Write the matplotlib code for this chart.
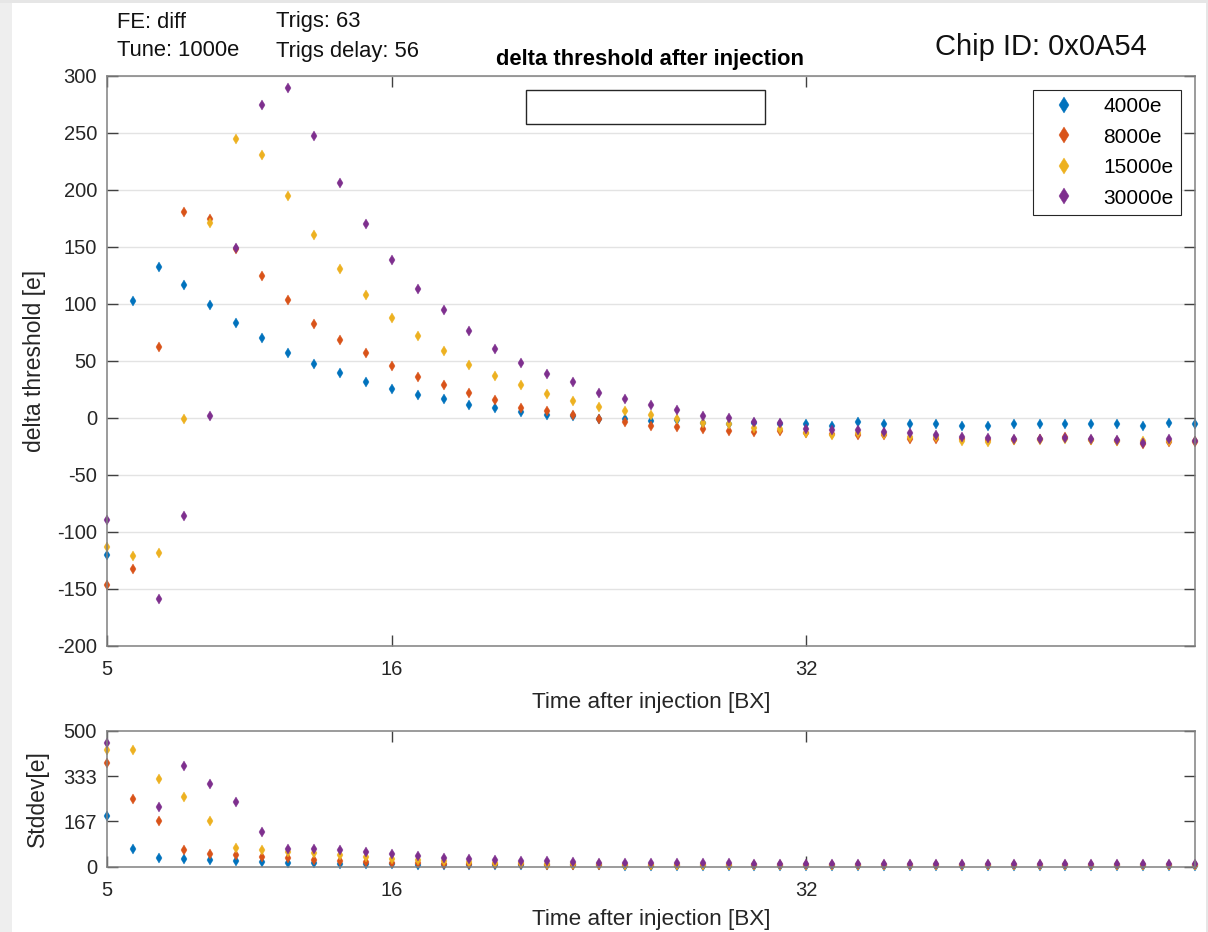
import numpy as np
import matplotlib
matplotlib.use("Agg")
import matplotlib.pyplot as plt
from matplotlib.patches import Rectangle

plt.rcParams['font.family'] = ['Liberation Sans', 'DejaVu Sans']
plt.rcParams['axes.unicode_minus'] = False

# ---------------- data ----------------
bx = np.arange(5, 48)
labels = ["4000e", "8000e", "15000e", "30000e"]
colors = ["#0072BD", "#D95319", "#EDB120", "#7E2F8E"]

dth_4000 = [-120.7, 102, 132.5, 116.7, 98.6, 83, 70.2, 57, 46.8, 38.9,
            31.3, 24.9, 20.2, 16.1, 11.4, 8.5, 5.3, 2.6, 1.2, -1.0,
            -1.1, -2.9, -2.0, -5.0, -5.5, -5.0, -5.5, -5.8, -7.0, -3.5,
            -5.8, -5.8, -5.8, -7.6, -7.6, -5.8, -5.3, -5.3, -5.3, -5.8,
            -7.0, -4.7, -5.3]
dth_8000 = [-147, -132.5, 61.7, 180.4, 174.6, 148, 124.6, 103, 82.5, 67.9,
            56.8, 45.4, 36, 28.7, 21.7, 15.5, 8.8, 5.6, 2.6, -0.9,
            -4.1, -7.0, -7.9, -10.2, -11.7, -12.8, -11.7, -13.7, -14.6, -15.5,
            -15.5, -18.4, -19.0, -19.0, -19.6, -19.6, -19.0, -16.7, -19.6, -20.2,
            -23.1, -21.3, -21.3]
dth_15000 = [-113.7, -121.6, -118.4, -1.4, 170.5, 244.5, 230.2, 194.5, 160.5, 130.7,
             107.4, 87.2, 71.7, 58.8, 46, 36.6, 28.7, 21.1, 14.6, 9.1,
             5.6, 2.4, -1.4, -4.4, -5.5, -8.8, -10.2, -13.2, -15.2, -13.2,
             -14.6, -16.7, -17.3, -20.2, -21.3, -19.6, -19.6, -18.4, -19.6, -20.2,
             -20.2, -20.2, -20.5]
dth_30000 = [-89.5, np.nan, -159, -86.5, 1.5, 148.6, 274, 289, 247.4, 205.6,
             169.9, 138, 113.2, 94.2, 76.3, 60.5, 48.3, 38, 31, 21.7,
             16.4, 10.9, 7.0, 1.5, -0.5, -3.8, -4.9, -10.2, -10.8, -10.8,
             -12.6, -13.7, -15.5, -17.3, -18.1, -19.0, -18.4, -17.8, -19.0, -19.6,
             -21.9, -19.0, -20.5]

std_4000 = [186, 66, 33, 30, 26, 22, 18, 15, 15, 11,
            10, 9, 7, 7, 6, 6, 5, 5, 5, 5,
            4, 4, 4, 4, 4, 4, 4, 4, 4, 4,
            4, 4, 4, 4, 4, 4, 4, 4, 4, 4,
            4, 4, 4]
std_8000 = [383, 249, 167, 60, 47, 43, 37, 33, 26, 22,
            18, 15, 13, 11, 10, 10, 9, 8, 8, 7,
            7, 6, 6, 6, 6, 5, 5, 5, 5, 5,
            5, 5, 5, 5, 5, 5, 5, 5, 5, 5,
            5, 5, 5]
std_15000 = [431, 431, 323, 258, 170, 69, 60, 55, 49, 42,
             36, 28, 24, 20, 16, 15, 13, 11, 10, 9,
             8, 7, 7, 6, 6, 6, 6, 6, 6, 6,
             6, 6, 6, 6, 6, 6, 6, 6, 6, 6,
             6, 6, 6]
std_30000 = [455, np.nan, 219, 372, 304, 238, 128, 66, 66, 63,
             54, 47, 39, 33, 30, 24, 20, 20, 16, 14,
             12, 12, 12, 12, 12, 10, 10, 10, 10, 10,
             9, 9, 9, 9, 9, 9, 9, 9, 9, 9,
             9, 9, 9]

dth_series = [dth_4000, dth_8000, dth_15000, dth_30000]
std_series = [std_4000, std_8000, std_15000, std_30000]

x_ticks = [5, 16, 32]
y_ticks_main = [-200, -150, -100, -50, 0, 50, 100, 150, 200, 250, 300]
y_ticks_std = [0, 167, 333, 500]

# ---------------- figure ----------------
W, H = 1208, 932
fig = plt.figure(figsize=(W / 100, H / 100), dpi=100)
fig.patch.set_facecolor("white")

# grey window frame
fig.patches.append(Rectangle((0, 0), 12 / W, 1, transform=fig.transFigure,
                             facecolor="#eeeeee", edgecolor="none", zorder=-10))
fig.patches.append(Rectangle((0, 1 - 3 / H), 1, 3 / H, transform=fig.transFigure,
                             facecolor="#e6e6e6", edgecolor="none", zorder=-10))
fig.patches.append(Rectangle((1 - 2 / W, 0), 2 / W, 1, transform=fig.transFigure,
                             facecolor="#e6e6e6", edgecolor="none", zorder=-10))


def px_axes(l, t, r, b):
    return fig.add_axes([l / W, 1 - b / H, (r - l) / W, (b - t) / H])


spine_col = "#808080"
tick_col = "#262626"
LAB = 16.2
MS = 5.2


def style(ax):
    for s in ax.spines.values():
        s.set_color(spine_col)
        s.set_linewidth(1.1)
    ax.tick_params(direction="in", length=8, width=1.0, color="#404040",
                   top=True, right=True, labelsize=14.5, labelcolor=tick_col)
    ax.tick_params(axis="x", pad=10)
    ax.tick_params(axis="y", pad=7)


ax = px_axes(106.7, 75.7, 1195, 645.7)
for vals, c, lab in zip(dth_series, colors, labels):
    ax.plot(bx, vals, linestyle="none", marker="d", markersize=MS,
            color=c, markeredgewidth=0.3, label=lab, clip_on=False)
ax.set_xlim(5, 47)
ax.set_ylim(-200, 300)
ax.set_xticks(x_ticks)
ax.set_yticks(y_ticks_main)
ax.grid(axis="y", color="#e3e3e3", linewidth=1.0)
ax.set_axisbelow(True)
style(ax)
ax.set_xlabel("Time after injection [BX]", fontsize=LAB, color=tick_col)
ax.xaxis.set_label_coords(0.5, (645.7 - 692) / 570)
ax.set_ylabel("delta threshold [e]", fontsize=16.5, color=tick_col)
ax.yaxis.set_label_coords((46 - 106.7) / 1088.3, 0.5)

leg = ax.legend(loc="upper right", bbox_to_anchor=((1181 - 106.7) / 1088.3, (645.7 - 90) / 570),
                borderaxespad=0, fancybox=False, framealpha=1, edgecolor="#262626",
                fontsize=15, markerscale=1.6, handletextpad=0.75, labelspacing=0.55,
                borderpad=0.35, handlelength=2.3)
leg.get_frame().set_linewidth(0.8)

ax2 = px_axes(106.7, 731, 1195, 866.7)
for vals, c, lab in zip(std_series, colors, labels):
    ax2.plot(bx, vals, linestyle="none", marker="d", markersize=MS,
             color=c, markeredgewidth=0.3, clip_on=False)
ax2.set_xlim(5, 47)
ax2.set_ylim(0, 500)
ax2.set_xticks(x_ticks)
ax2.set_yticks(y_ticks_std)
style(ax2)
ax2.set_xlabel("Time after injection [BX]", fontsize=LAB, color=tick_col)
ax2.xaxis.set_label_coords(0.5, (866.7 - 909) / 135.7)
ax2.set_ylabel("Stddev[e]", fontsize=16.5, color=tick_col)
ax2.yaxis.set_label_coords((49 - 106.7) / 1088.3, 0.5)

# header texts
HDR = 15.8
fig.text(117 / W, 1 - 22 / H, "FE: diff", fontsize=HDR, va="center", ha="left", color="#111111")
fig.text(117 / W, 1 - 51 / H, "Tune: 1000e", fontsize=HDR, va="center", ha="left", color="#111111")
fig.text(276 / W, 1 - 22 / H, "Trigs: 63", fontsize=HDR, va="center", ha="left", color="#111111")
fig.text(276 / W, 1 - 51 / H, "Trigs delay: 56", fontsize=HDR, va="center", ha="left", color="#111111")
fig.text(1041 / W, 1 - 47 / H, "Chip ID: 0x0A54", fontsize=21, va="center", ha="center", color="#111111")
fig.text(650 / W, 1 - 60 / H, "delta threshold after injection", fontsize=15.8, fontweight="bold",
         va="center", ha="center", color="black")

# empty annotation box
fig.patches.append(Rectangle((526 / W, 1 - 124 / H), 239 / W, 34 / H, transform=fig.transFigure,
                             facecolor="white", edgecolor="#262626", linewidth=1.0, zorder=5))

fig.savefig("out.png", dpi=100)
